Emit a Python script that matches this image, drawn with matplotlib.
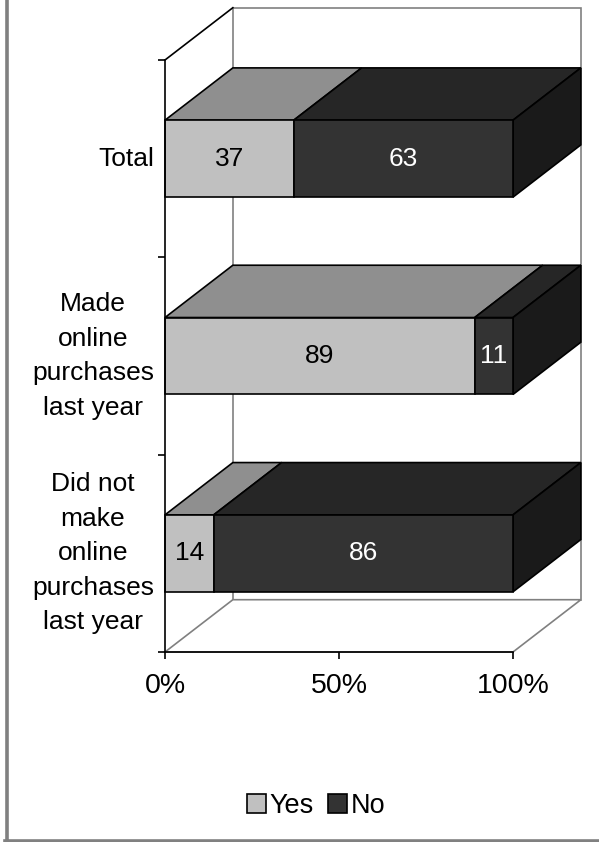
import matplotlib
matplotlib.use("Agg")
import matplotlib.pyplot as plt
from matplotlib.patches import Polygon, Rectangle, Patch
from matplotlib.lines import Line2D
from matplotlib.transforms import ScaledTranslation

plt.rcParams["font.family"] = ["Liberation Sans", "DejaVu Sans"]

# survey shares (percent), listed bottom to top
categories = ["Did not\nmake\nonline\npurchases\nlast year",
              "Made\nonline\npurchases\nlast year",
              "Total"]
yes_share = [14, 89, 37]
no_share = [86, 11, 63]
series_names = ["Yes", "No"]
tick_values = [0, 50, 100]
tick_labels = ["0%", "50%", "100%"]

# colours: front, top, side
yes_colors = ("#c0c0c0", "#8f8f8f", "#6f6f6f")
no_colors = ("#333333", "#262626", "#1a1a1a")
wall_color = "#808080"

# depth of the fake 3d box in data units
dx = 19.5
dy = 0.265
bar_h = 0.39
fs = 19


def draw_segment(ax, x0, x1, yc, colors, last):
    bot, top = yc - bar_h / 2, yc + bar_h / 2
    ax.add_patch(Polygon([(x0, top), (x1, top), (x1 + dx, top + dy), (x0 + dx, top + dy)],
                         closed=True, fc=colors[1], ec="black", lw=1.2, clip_on=False, zorder=3))
    if last:
        ax.add_patch(Polygon([(x1, bot), (x1, top), (x1 + dx, top + dy), (x1 + dx, bot + dy)],
                             closed=True, fc=colors[2], ec="black", lw=1.2, clip_on=False, zorder=3))
    ax.add_patch(Rectangle((x0, bot), x1 - x0, bar_h, fc=colors[0], ec="black",
                           lw=1.2, clip_on=False, zorder=4))


def main():
    fig = plt.figure(figsize=(5.99, 8.42), dpi=100)
    ax = fig.add_axes([165 / 599, 190 / 842, 348 / 599, 592 / 842])
    n = len(categories)
    ax.set_xlim(0, 100)
    ax.set_ylim(0, n)

    # back wall, floor and side wall
    ax.add_patch(Rectangle((dx, dy), 100, n, fc="white", ec=wall_color, lw=1.2,
                           clip_on=False, zorder=1))
    ax.add_patch(Polygon([(0, 0), (100, 0), (100 + dx, dy), (dx, dy)], closed=True,
                         fc="white", ec=wall_color, lw=1.2, clip_on=False, zorder=1))
    ax.plot([0, dx], [n, n + dy], color="black", lw=1.2, clip_on=False, zorder=2)

    label_tr = ax.get_yaxis_transform() + ScaledTranslation(-11 / 100, 0, fig.dpi_scale_trans)
    for i in range(n):
        yc = i + 0.5
        y, no = yes_share[i], no_share[i]
        draw_segment(ax, 0, y, yc, yes_colors, False)
        draw_segment(ax, y, y + no, yc, no_colors, True)
        ax.text(y / 2, yc, str(y), ha="center", va="center", fontsize=fs,
                color="black", zorder=5)
        ax.text(y + no / 2, yc, str(no), ha="center", va="center", fontsize=fs,
                color="white", zorder=5)
        ax.text(0, yc, categories[i], transform=label_tr, ha="right", va="center",
                multialignment="center", linespacing=1.55, fontsize=fs)

    for s in ["top", "right"]:
        ax.spines[s].set_visible(False)
    for s in ["left", "bottom"]:
        ax.spines[s].set_linewidth(1.2)
        ax.spines[s].set_zorder(6)
    ax.patch.set_alpha(0)

    ax.set_xticks(tick_values)
    ax.set_xticklabels(tick_labels, fontsize=20.5)
    ax.tick_params(axis="x", length=5, width=1.2, pad=10)

    ax.set_yticks(range(n + 1))
    ax.set_yticklabels([])
    ax.tick_params(axis="y", length=5, width=1.2)

    handles = [Patch(fc=yes_colors[0], ec="black", lw=1.2),
               Patch(fc=no_colors[0], ec="black", lw=1.2)]
    fig.legend(handles, series_names, loc="center", bbox_to_anchor=(316 / 599, 1 - 806 / 842),
               ncol=2, frameon=False, fontsize=19.5, handlelength=0.7, handleheight=0.7,
               handletextpad=0.15, columnspacing=0.5, borderpad=0)

    # outer frame, left and bottom edges
    fig.add_artist(Line2D([6.5 / 599, 6.5 / 599], [1.5 / 842, 1], color=wall_color, lw=2.6))
    fig.add_artist(Line2D([5 / 599, 1], [1.5 / 842, 1.5 / 842], color=wall_color, lw=2.6))

    fig.savefig("out.png", dpi=100)


if __name__ == "__main__":
    main()
